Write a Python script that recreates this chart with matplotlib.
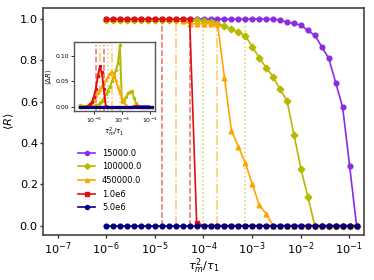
import numpy as np
import matplotlib
matplotlib.use("Agg")
import matplotlib.pyplot as plt
from matplotlib.ticker import NullLocator, FixedLocator

# sampling grid of tau_m^2/tau_1 (37 points, log-spaced)
tau = np.geomspace(1e-6, 10**-0.85, 37)

labels = ["15000.0", "100000.0", "450000.0", "1.0e6", "5.0e6"]
colors = ["#8a2be2", "#b8b800", "#ffa500", "#dd1111", "#000080"]
markers = ["o", "D", "^", "s", "o"]

R_15000 = [1.0]*25 + [0.995, 0.985, 0.979, 0.970, 0.945, 0.921, 0.866, 0.810,
                      0.692, 0.573, 0.290, 0.0]
R_100000 = [0.995]*14 + [0.993, 0.987, 0.976, 0.965, 0.952, 0.935, 0.919, 0.866,
                         0.813, 0.765, 0.721, 0.660, 0.604, 0.440, 0.275, 0.139,
                         0.0, 0.0, 0.0, 0.0, 0.0, 0.0, 0.0]
R_450000 = [1.0]*11 + [0.99, 0.977, 0.977, 0.977, 0.977, 0.977, 0.717, 0.460,
                       0.383, 0.303, 0.201, 0.100, 0.057] + [0.0]*13
R_1e6 = [1.0]*13 + [0.015] + [0.0]*23
R_5e6 = [0.0]*37

dR_15000 = [0.0]*28 + [0.001, 0.002, 0.002, 0.002, 0.002, 0.002, 0.002, 0.001, 0.0]
dR_100000 = [0.004, 0.003, 0.003, 0.003, 0.003, 0.003, 0.003, 0.003, 0.004, 0.005,
             0.008, 0.012, 0.018, 0.025, 0.032, 0.040, 0.050, 0.060, 0.072, 0.085,
             0.120, 0.010, 0.012, 0.020, 0.027, 0.030, 0.032, 0.018, 0.008, 0.003,
             0.0, 0.0, 0.0, 0.0, 0.0, 0.0, 0.0]
dR_450000 = [0.0]*6 + [0.005, 0.012, 0.022, 0.028, 0.034, 0.040, 0.047, 0.052,
                       0.058, 0.065, 0.069, 0.062, 0.052, 0.040, 0.028, 0.018,
                       0.010, 0.004] + [0.0]*13
dR_1e6 = [0.0]*4 + [0.003, 0.006, 0.010, 0.020, 0.035, 0.060, 0.079, 0.068, 0.035,
                    0.002] + [0.0]*13 + [0.002, 0.002, 0.002] + [0.0]*7
dR_5e6 = [0.0]*37

R_all = [R_15000, R_100000, R_450000, R_1e6, R_5e6]
dR_all = [dR_15000, dR_100000, dR_450000, dR_1e6, dR_5e6]

# characteristic times (vertical markers)
vl_x = [1.4e-5, 5.2e-5, 2.7e-5, 1.9e-4, 1.0e-4, 7.3e-4]
vl_colors = ["#dd1111", "#dd1111", "#ffa500", "#ffa500", "#b8b800", "#b8b800"]
vl_styles = ["--", "--", "-.", "-.", ":", ":"]

fig = plt.figure(figsize=(3.74, 2.8), dpi=100)
ax = fig.add_axes([0.115, 0.161, 0.858, 0.81])

for xv, c, ls in zip(vl_x, vl_colors, vl_styles):
    ax.vlines(xv, 0, 1, colors=c, linestyles=ls, linewidth=1.1, alpha=0.6)

for y, lab, c, m in zip(R_all, labels, colors, markers):
    ax.plot(tau, y, color=c, marker=m, markersize=3.4, linewidth=1.2, label=lab)

ax.set_xscale("log")
ax.set_xlim(5e-8, 0.2)
ax.set_ylim(-0.045, 1.053)
ax.xaxis.set_major_locator(FixedLocator([1e-7, 1e-6, 1e-5, 1e-4, 1e-3, 1e-2, 1e-1]))
ax.xaxis.set_minor_locator(NullLocator())
ax.set_yticks([0.0, 0.2, 0.4, 0.6, 0.8, 1.0])
ax.tick_params(labelsize=8.2, length=2.5, width=1, pad=1.2, color="#333333")
for s in ax.spines.values():
    s.set_color("#444444")
    s.set_linewidth(1.2)
ax.set_xlabel(r"$\tau_m^2/\tau_1$", fontsize=8.2, labelpad=0)
ax.set_ylabel(r"$\langle R\rangle$", fontsize=8.2, labelpad=3)

ax.legend(loc="center left", bbox_to_anchor=(0.085, 0.24), frameon=False,
          fontsize=6, handlelength=2.1, labelspacing=0.55, markerscale=0.85,
          handletextpad=0.8)

# inset
axi = fig.add_axes([0.198, 0.605, 0.216, 0.245])
for xv, c, ls in zip(vl_x, vl_colors, vl_styles):
    axi.axvline(xv, 0, 0.95, color=c, linestyle=ls, linewidth=1.1, alpha=0.6)
for y, c, m in zip(dR_all, colors, markers):
    axi.plot(tau, y, color=c, marker=m, markersize=1.3, linewidth=1.4)
axi.set_xscale("log")
axi.set_xlim(4e-7, 0.22)
axi.xaxis.set_major_locator(FixedLocator([1e-5, 1e-3, 1e-1]))
axi.xaxis.set_minor_locator(NullLocator())
axi.set_yticks([0.0, 0.05, 0.10])
axi.tick_params(labelsize=4.5, length=2, width=0.6, pad=1.5)
for s in axi.spines.values():
    s.set_color("#555555")
    s.set_linewidth(1.0)
axi.set_xlabel(r"$\tau_m^2/\tau_1$", fontsize=5, labelpad=1)
axi.set_ylabel(r"$\langle \Delta R\rangle$", fontsize=5, labelpad=1)

fig.savefig("out.png", dpi=100)
